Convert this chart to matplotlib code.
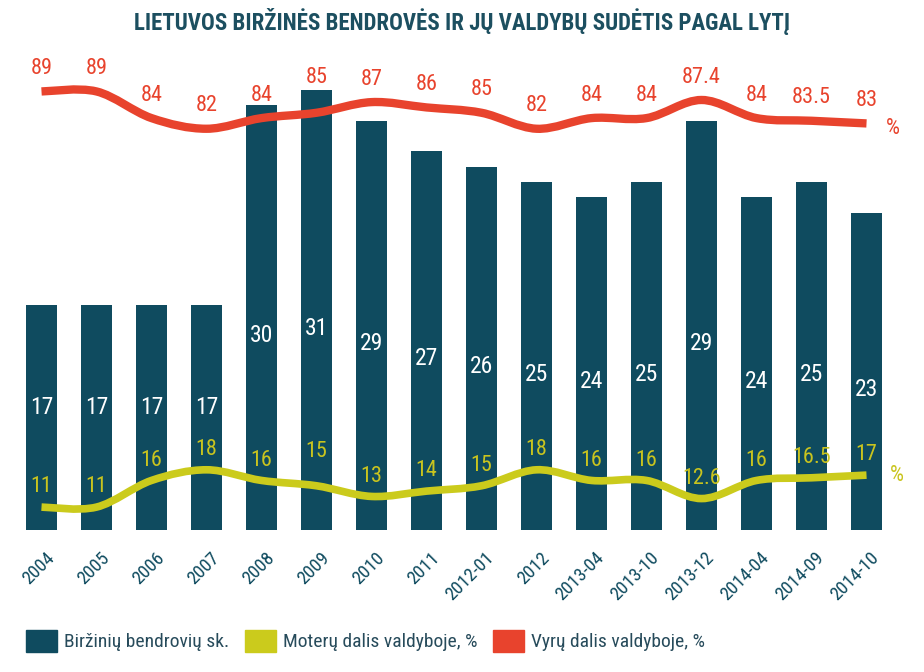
import numpy as np
import matplotlib
matplotlib.use("Agg")
import matplotlib.pyplot as plt
from matplotlib.path import Path
from matplotlib.patches import PathPatch, Patch
from matplotlib.transforms import ScaledTranslation

plt.rcParams['font.family'] = ['Roboto Condensed', 'DejaVu Sans']

# data
periods = ["2004", "2005", "2006", "2007", "2008", "2009", "2010", "2011", "2012-01",
           "2012", "2013-04", "2013-10", "2013-12", "2014-04", "2014-09", "2014-10"]
companies = [17, 17, 17, 17, 30, 31, 29, 27, 26, 25, 24, 25, 29, 24, 25, 23]
women_pct = [11, 11, 16, 18, 16, 15, 13, 14, 15, 18, 16, 16, 12.6, 16, 16.5, 17]
men_pct = [89, 89, 84, 82, 84, 85, 87, 86, 85, 82, 84, 84, 87.4, 84, 83.5, 83]

BAR_C = "#0f4b5f"
GREEN = "#cbcb1c"
GREEN_TXT = "#c9c41e"
RED = "#e8432d"
TITLE_C = "#1c4f60"
TXT_C = "#274b5b"


def smooth_path(x, y):
    # catmull-rom -> cubic bezier so the line is drawn smooth through the points
    x = np.asarray(x, float)
    y = np.asarray(y, float)
    verts = [(x[0], y[0])]
    codes = [Path.MOVETO]
    n = len(x)
    for i in range(n - 1):
        p0 = (x[max(i - 1, 0)], y[max(i - 1, 0)])
        p1 = (x[i], y[i])
        p2 = (x[i + 1], y[i + 1])
        p3 = (x[min(i + 2, n - 1)], y[min(i + 2, n - 1)])
        c1 = (p1[0] + (p2[0] - p0[0]) / 6, p1[1] + (p2[1] - p0[1]) / 6)
        c2 = (p2[0] - (p3[0] - p1[0]) / 6, p2[1] - (p3[1] - p1[1]) / 6)
        verts += [c1, c2, p2]
        codes += [Path.CURVE4] * 3
    return Path(verts, codes)


fig = plt.figure(figsize=(9.24, 6.72), dpi=100)
ax = fig.add_axes([0.0092, 0.2113, 0.9643, 0.6994])
ax2 = ax.twinx()

x = np.arange(len(periods))
ax.bar(x, companies, width=0.55, color=BAR_C, zorder=1)
ax.set_xlim(-0.6, 15.6)
ax.set_ylim(2.35, 32.95)
ax2.set_ylim(6.7, 94.9)

for xi, v in zip(x, companies):
    ax.text(xi, max(v / 2, 10.3), str(v), color="white", ha="center", va="center",
            fontsize=17, zorder=3)

ax2.add_patch(PathPatch(smooth_path(x, men_pct), fill=False, edgecolor=RED,
                        lw=6, capstyle="butt", zorder=4))
ax2.add_patch(PathPatch(smooth_path(x, women_pct), fill=False, edgecolor=GREEN,
                        lw=5.5, capstyle="butt", zorder=4))

# label offsets in points (2009 labels sit higher in the original)
for i, (xi, v) in enumerate(zip(x, men_pct)):
    extra = 9 if periods[i] == "2009" else 0
    ax2.annotate(f"{v:g}", (xi, v), xytext=(0, 16.5 + extra), textcoords="offset points",
                 ha="center", va="center", color=RED, fontsize=16, zorder=5)
for i, (xi, v) in enumerate(zip(x, women_pct)):
    extra = 10 if periods[i] == "2009" else 0
    ax2.annotate(f"{v:g}", (xi, v), xytext=(0, 14.5 + extra), textcoords="offset points",
                 ha="center", va="center", color=GREEN_TXT, fontsize=16, zorder=5)

ax2.text(15.35, men_pct[-1] - 0.9, "%", color=RED, fontsize=16, ha="left", va="center")
ax2.text(15.43, women_pct[-1], "%", color=GREEN_TXT, fontsize=16, ha="left", va="center")

ax.set_xticks(x)
ax.set_xticklabels(periods, rotation=45, ha="right", va="center", rotation_mode="anchor",
                   color=BAR_C, fontsize=13.5)
ax.tick_params(axis="x", length=0, pad=18)
shift = ScaledTranslation(0.1, 0, fig.dpi_scale_trans)
for lab in ax.get_xticklabels():
    lab.set_transform(lab.get_transform() + shift)
ax.set_yticks([])
ax2.set_yticks([])
for a in (ax, ax2):
    for s in a.spines.values():
        s.set_visible(False)

fig.text(0.5, 0.968, "LIETUVOS BIRŽINĖS BENDROVĖS IR JŲ VALDYBŲ SUDĖTIS PAGAL LYTĮ",
         ha="center", va="center", color=TITLE_C, fontsize=16.5, fontweight="bold")

handles = [Patch(color=BAR_C), Patch(color=GREEN), Patch(color=RED)]
labels = ["Biržinių bendrovių sk.", "Moterų dalis valdyboje, %", "Vyrų dalis valdyboje, %"]
fig.legend(handles, labels, loc="center left", bbox_to_anchor=(26 / 924, 1 - 641 / 672),
           ncol=3, frameon=False, fontsize=14, handlelength=1.6, handleheight=1.34,
           handletextpad=0.36, columnspacing=0.8, borderpad=0, borderaxespad=0,
           labelcolor=TXT_C)

fig.savefig("out.png", dpi=100)
